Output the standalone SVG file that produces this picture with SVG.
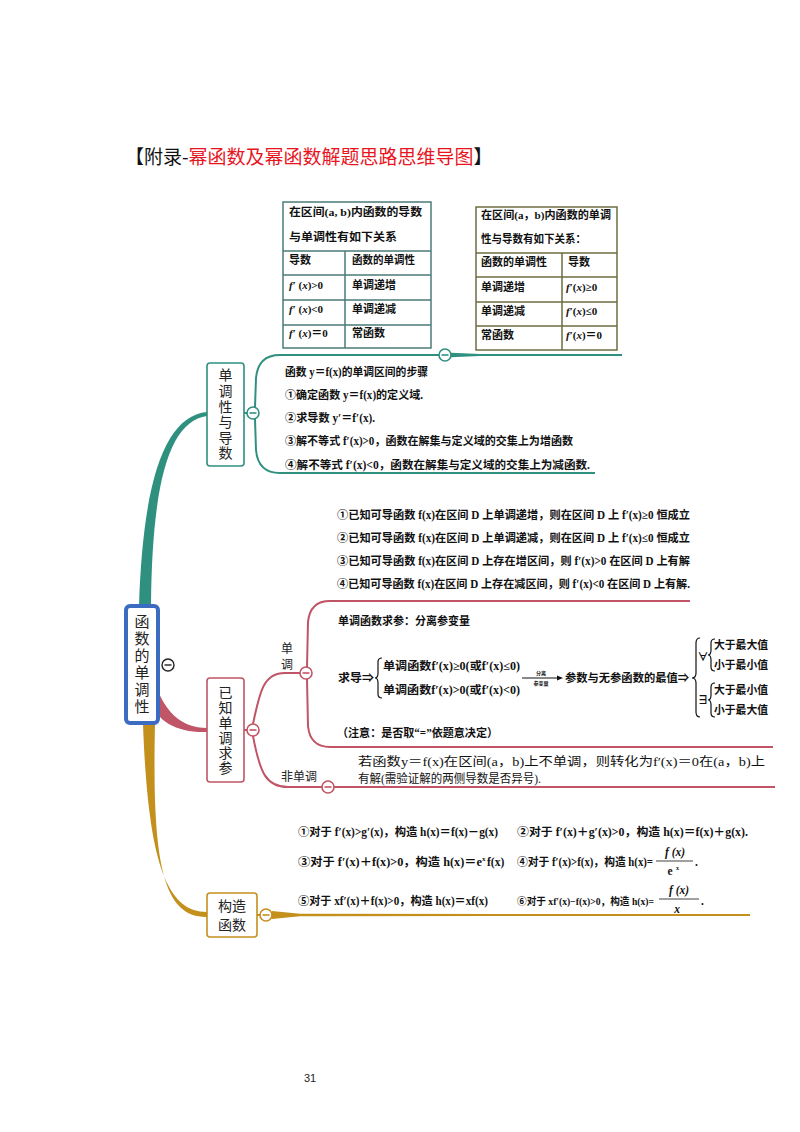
<svg xmlns="http://www.w3.org/2000/svg" width="800" height="1132" viewBox="0 0 800 1132">
<style>
.t{font-family:"Liberation Serif","Noto Sans CJK SC",serif;font-weight:bold;font-size:11.5px;fill:#111}
.tb{font-family:"Liberation Serif","Noto Sans CJK SC",serif;font-weight:bold;font-size:11px;fill:#111}
.n{font-family:"Liberation Serif","Noto Sans CJK SC",serif;font-size:12px;fill:#111}
.s{font-family:"Noto Sans CJK SC",sans-serif;font-size:14px;fill:#222;text-anchor:middle}
.v{font-family:"Noto Sans CJK SC",sans-serif;font-size:14px;fill:#222;writing-mode:vertical-rl}
.tiny{font-family:"Noto Sans CJK SC",sans-serif;font-size:5px;fill:#111;text-anchor:middle;font-weight:bold}
.circ{fill:#fff;stroke-width:1.6}
.minus{stroke-width:1.6}
.teal{stroke:#2f9080}
.pink{stroke:#bf5566}
.gold{stroke:#c4901c}
.ln{fill:none;stroke-width:2}
.br{fill:none;stroke:#111;stroke-width:1.2}
</style>
<rect width="800" height="1132" fill="#fff"/>

<!-- title -->
<text x="125" y="164" font-family="'Noto Sans CJK SC',sans-serif" font-size="19" fill="#111">【附录-<tspan fill="#e8141e">幂函数及幂函数解题思路思维导图</tspan>】</text>

<!-- table 1 -->
<g id="table1">
<rect x="283" y="202" width="148" height="146" fill="#fff" stroke="#4b7b78" stroke-width="1.5"/>
<path d="M283,251H431M283,275H431M283,300H431M283,325H431M345,251V348" stroke="#4b7b78" stroke-width="1.5" fill="none"/>
<text class="tb" x="289" y="216" textLength="133" lengthAdjust="spacingAndGlyphs">在区间(a, b)内函数的导数</text>
<text class="tb" x="289" y="241" textLength="108" lengthAdjust="spacingAndGlyphs">与单调性有如下关系</text>
<text class="tb" x="289" y="264">导数</text>
<text class="tb" x="352" y="264" textLength="63" lengthAdjust="spacingAndGlyphs">函数的单调性</text>
<text class="tb" x="289" y="289"><tspan font-style="italic">f</tspan>′ (<tspan font-style="italic">x</tspan>)&gt;0</text>
<text class="tb" x="352" y="289">单调递增</text>
<text class="tb" x="289" y="313"><tspan font-style="italic">f</tspan>′ (<tspan font-style="italic">x</tspan>)&lt;0</text>
<text class="tb" x="352" y="313">单调递减</text>
<text class="tb" x="289" y="337"><tspan font-style="italic">f</tspan>′ (<tspan font-style="italic">x</tspan>)＝0</text>
<text class="tb" x="352" y="337">常函数</text>
</g>

<!-- table 2 -->
<g id="table2">
<rect x="476" y="207" width="141" height="143" fill="#fff" stroke="#6e6d40" stroke-width="1.5"/>
<path d="M476,253H617M476,277H617M476,302H617M476,326H617M562,253V350" stroke="#6e6d40" stroke-width="1.5" fill="none"/>
<text class="tb" x="481" y="219" textLength="130" lengthAdjust="spacingAndGlyphs">在区间(a，b)内函数的单调</text>
<text class="tb" x="481" y="243" textLength="105" lengthAdjust="spacingAndGlyphs">性与导数有如下关系：</text>
<text class="tb" x="481" y="266">函数的单调性</text>
<text class="tb" x="568" y="266">导数</text>
<text class="tb" x="481" y="291">单调递增</text>
<text class="tb" x="566" y="291"><tspan font-style="italic">f</tspan>′(<tspan font-style="italic">x</tspan>)≥0</text>
<text class="tb" x="481" y="315">单调递减</text>
<text class="tb" x="566" y="315"><tspan font-style="italic">f</tspan>′(<tspan font-style="italic">x</tspan>)≤0</text>
<text class="tb" x="481" y="339">常函数</text>
<text class="tb" x="566" y="339"><tspan font-style="italic">f</tspan>′(<tspan font-style="italic">x</tspan>)＝0</text>
</g>

<!-- connectors -->
<g id="connectors">
<path d="M139,606 C143,480 165,416 207,412 L207,416 C170,421 152,480 151,606 Z" fill="#2f9080"/>
<line x1="244" y1="413" x2="248" y2="413" class="ln teal" stroke-width="2.5"/>
<path d="M255,407 L256,378 Q258,355 280,355 L622,355" class="ln teal"/>
<path d="M445,352.5 L480,354 L480,356 L445,357.5 Z" fill="#2f9080"/>
<path d="M255,419 L256,450 Q258,473 280,473 L595,473" class="ln teal"/>

<path d="M153,675 C162,712 182,728 207,728 L207,732 C178,733 156,722 151,700 Z" fill="#bf5566"/>
<line x1="244" y1="730" x2="248" y2="730" class="ln pink" stroke-width="2.5"/>
<path d="M253,724 C260,690 264,673 285,673 L300,673" class="ln pink"/>
<path d="M307,667 L308,622 Q310,601 330,601 L690,601" class="ln pink"/>
<path d="M307,679 L308,726 Q310,747 330,747 L773,747" class="ln pink"/>
<path d="M253,736 C260,773 266,787 288,787 L322,787" class="ln pink"/>
<path d="M334,787 L775,787" class="ln pink"/>

<path d="M143,724 C148,860 166,912 207,912 L207,917 C162,918 152,860 155,724 Z" fill="#c4901c"/>
<line x1="257" y1="915" x2="260" y2="915" class="ln gold" stroke-width="2.5"/>
<path d="M272,911 L300,913.8 L750,914 L750,916 L300,916.2 L272,919 Z" fill="#c4901c"/>
</g>

<!-- root node -->
<g id="root">
<rect x="126" y="606" width="32" height="117" rx="4" fill="#fff" stroke="#3b6cc2" stroke-width="4"/>
<text class="v" x="142" y="614" style="font-size:15px" letter-spacing="2">函数的单调性</text>
<circle cx="168" cy="665" r="6" fill="#fff" stroke="#222" stroke-width="1.4"/>
<line x1="164.5" y1="665" x2="171.5" y2="665" stroke="#222" stroke-width="1.4"/>
</g>

<!-- branch 1 node -->
<g id="n1">
<rect x="207" y="363" width="37" height="103" rx="3" fill="#fff" stroke="#2f9080" stroke-width="1.6"/>
<text class="v" x="225.5" y="368" letter-spacing="1.6">单调性与导数</text>
<circle cx="253" cy="413" r="6" class="circ teal"/>
<line x1="249.5" y1="413" x2="256.5" y2="413" class="minus teal"/>
<circle cx="445" cy="355" r="6" class="circ teal"/>
<line x1="441.5" y1="355" x2="448.5" y2="355" class="minus teal"/>
</g>

<g id="n1-text">
<text class="t" x="285" y="376" textLength="143" lengthAdjust="spacingAndGlyphs">函数 y＝f(x)的单调区间的步骤</text>
<text class="t" x="285" y="399" textLength="138" lengthAdjust="spacingAndGlyphs">①确定函数 y＝f(x)的定义域.</text>
<text class="t" x="285" y="422" textLength="90" lengthAdjust="spacingAndGlyphs">②求导数 y′＝f′(x).</text>
<text class="t" x="285" y="445" textLength="288" lengthAdjust="spacingAndGlyphs">③解不等式 f′(x)&gt;0，函数在解集与定义域的交集上为增函数</text>
<text class="t" x="285" y="469" textLength="305" lengthAdjust="spacingAndGlyphs">④解不等式 f′(x)&lt;0，函数在解集与定义域的交集上为减函数.</text>
</g>

<!-- branch 2 node -->
<g id="n2">
<rect x="207" y="678" width="37" height="104" rx="3" fill="#fff" stroke="#bf5566" stroke-width="1.6"/>
<text class="v" x="225.5" y="686" letter-spacing="1">已知单调求参</text>
<circle cx="253" cy="730" r="6" class="circ pink"/>
<line x1="249.5" y1="730" x2="256.5" y2="730" class="minus pink"/>
</g>

<g id="n2-known">
<text class="t" x="337" y="519" textLength="353" lengthAdjust="spacingAndGlyphs">①已知可导函数 f(x)在区间 D 上单调递增，则在区间 D 上 f′(x)≥0 恒成立</text>
<text class="t" x="337" y="542" textLength="353" lengthAdjust="spacingAndGlyphs">②已知可导函数 f(x)在区间 D 上单调递减，则在区间 D 上 f′(x)≤0 恒成立</text>
<text class="t" x="337" y="565" textLength="353" lengthAdjust="spacingAndGlyphs">③已知可导函数 f(x)在区间 D 上存在增区间，则 f′(x)&gt;0 在区间 D 上有解</text>
<text class="t" x="337" y="588" textLength="353" lengthAdjust="spacingAndGlyphs">④已知可导函数 f(x)在区间 D 上存在减区间，则 f′(x)&lt;0 在区间 D 上有解.</text>
</g>

<g id="n2-mono">
<text class="v" x="287" y="642" style="font-size:12px" letter-spacing="4">单调</text>
<circle cx="306" cy="673" r="6" class="circ pink"/>
<line x1="302.5" y1="673" x2="309.5" y2="673" class="minus pink"/>
<text class="t" x="338" y="625" textLength="132" lengthAdjust="spacingAndGlyphs">单调函数求参：分离参变量</text>
<text class="t" x="338" y="682" textLength="36" lengthAdjust="spacingAndGlyphs">求导⇒</text>
<path class="br" d="M382,658 Q378,658 378,662 L378,673 Q378,678 375,678 Q378,678 378,683 L378,694 Q378,698 382,698"/>
<text class="t" x="383" y="670" textLength="137" lengthAdjust="spacingAndGlyphs">单调函数f′(x)≥0(或f′(x)≤0)</text>
<text class="t" x="383" y="694" textLength="137" lengthAdjust="spacingAndGlyphs">单调函数f′(x)&gt;0(或f′(x)&lt;0)</text>
<line x1="522" y1="678" x2="559" y2="678" stroke="#111" stroke-width="1"/>
<path d="M563,678 L557,675.5 L557,680.5 Z" fill="#111"/>
<text class="tiny" x="541" y="675">分离</text>
<text class="tiny" x="541" y="685">参变量</text>
<text class="t" x="565" y="682" textLength="124" lengthAdjust="spacingAndGlyphs">参数与无参函数的最值⇒</text>
<path class="br" d="M700,638 Q696,638 696,643 L696,673 Q696,678 692,678 Q696,678 696,683 L696,712 Q696,717 700,717"/>
<text class="t" x="703" y="661" text-anchor="middle" style="font-size:11px">∀</text>
<path class="br" d="M715,639 Q711,639 711,643 L711,650 Q711,655 708,655 Q711,655 711,660 L711,667 Q711,671 715,671"/>
<text class="t" x="714" y="649" textLength="54" lengthAdjust="spacingAndGlyphs">大于最大值</text>
<text class="t" x="714" y="669" textLength="54" lengthAdjust="spacingAndGlyphs">小于最小值</text>
<text class="t" x="703" y="704" text-anchor="middle" style="font-size:11px">∃</text>
<path class="br" d="M715,683 Q711,683 711,687 L711,695 Q711,700 708,700 Q711,700 711,705 L711,713 Q711,717 715,717"/>
<text class="t" x="714" y="694" textLength="54" lengthAdjust="spacingAndGlyphs">大于最小值</text>
<text class="t" x="714" y="714" textLength="54" lengthAdjust="spacingAndGlyphs">小于最大值</text>
<text class="t" x="337" y="737" textLength="161" lengthAdjust="spacingAndGlyphs">（注意：是否取“=”依题意决定）</text>
</g>

<g id="n2-nonmono">
<text x="299" y="781" font-family="'Noto Sans CJK SC',sans-serif" font-size="12" fill="#222" text-anchor="middle">非单调</text>
<circle cx="328" cy="787" r="6" class="circ pink"/>
<line x1="324.5" y1="787" x2="331.5" y2="787" class="minus pink"/>
<text class="n" x="358" y="766" textLength="407" lengthAdjust="spacingAndGlyphs">若函数y＝f(x)在区间(a，b)上不单调，则转化为f′(x)＝0在(a，b)上</text>
<text class="n" x="358" y="783" textLength="183" lengthAdjust="spacingAndGlyphs">有解(需验证解的两侧导数是否异号).</text>
</g>

<!-- branch 3 node -->
<g id="n3">
<rect x="207" y="893" width="50" height="44" rx="3" fill="#fff" stroke="#c4901c" stroke-width="1.6"/>
<text class="s" x="232" y="911">构造</text>
<text class="s" x="232" y="930">函数</text>
<circle cx="266" cy="915" r="6" class="circ gold"/>
<line x1="262.5" y1="915" x2="269.5" y2="915" class="minus gold"/>
</g>

<g id="n3-text">
<text class="t" x="298" y="836" textLength="200" lengthAdjust="spacingAndGlyphs">①对于 f′(x)&gt;g′(x)，构造 h(x)＝f(x)－g(x)</text>
<text class="t" x="517" y="836" textLength="231" lengthAdjust="spacingAndGlyphs">②对于 f′(x)＋g′(x)&gt;0，构造 h(x)＝f(x)＋g(x).</text>
<text class="t" x="298" y="866" textLength="184" lengthAdjust="spacingAndGlyphs">③对于 f′(x)＋f(x)&gt;0，构造 h(x)＝e</text>
<text class="t" x="482" y="861" style="font-size:7px">x</text>
<text class="t" x="487" y="866">f(x)</text>
<text class="t" x="517" y="866" textLength="136" lengthAdjust="spacingAndGlyphs">④对于 f′(x)&gt;f(x)，构造 h(x)=</text>
<text class="t" x="675" y="856" text-anchor="middle" font-style="italic">f (x)</text>
<line x1="656" y1="861" x2="693" y2="861" stroke="#111" stroke-width="0.8"/>
<text class="t" x="670" y="875" text-anchor="middle">e</text>
<text class="t" x="676" y="870" style="font-size:6px">x</text>
<text class="t" x="695" y="866">.</text>
<text class="t" x="298" y="905" textLength="190" lengthAdjust="spacingAndGlyphs">⑤对于 xf′(x)＋f(x)&gt;0，构造 h(x)＝xf(x)</text>
<text class="t" x="517" y="905" style="font-size:10.5px" textLength="137" lengthAdjust="spacingAndGlyphs">⑥对于 xf′(x)−f(x)&gt;0，构造 h(x)=</text>
<text class="t" x="679" y="894" text-anchor="middle" font-style="italic">f (x)</text>
<line x1="659" y1="899" x2="699" y2="899" stroke="#111" stroke-width="0.8"/>
<text class="t" x="677" y="913" text-anchor="middle" font-style="italic">x</text>
<text class="t" x="701" y="905">.</text>
</g>

<text x="310" y="1082" font-family="'Liberation Sans',sans-serif" font-size="11" fill="#222" text-anchor="middle">31</text>
</svg>
